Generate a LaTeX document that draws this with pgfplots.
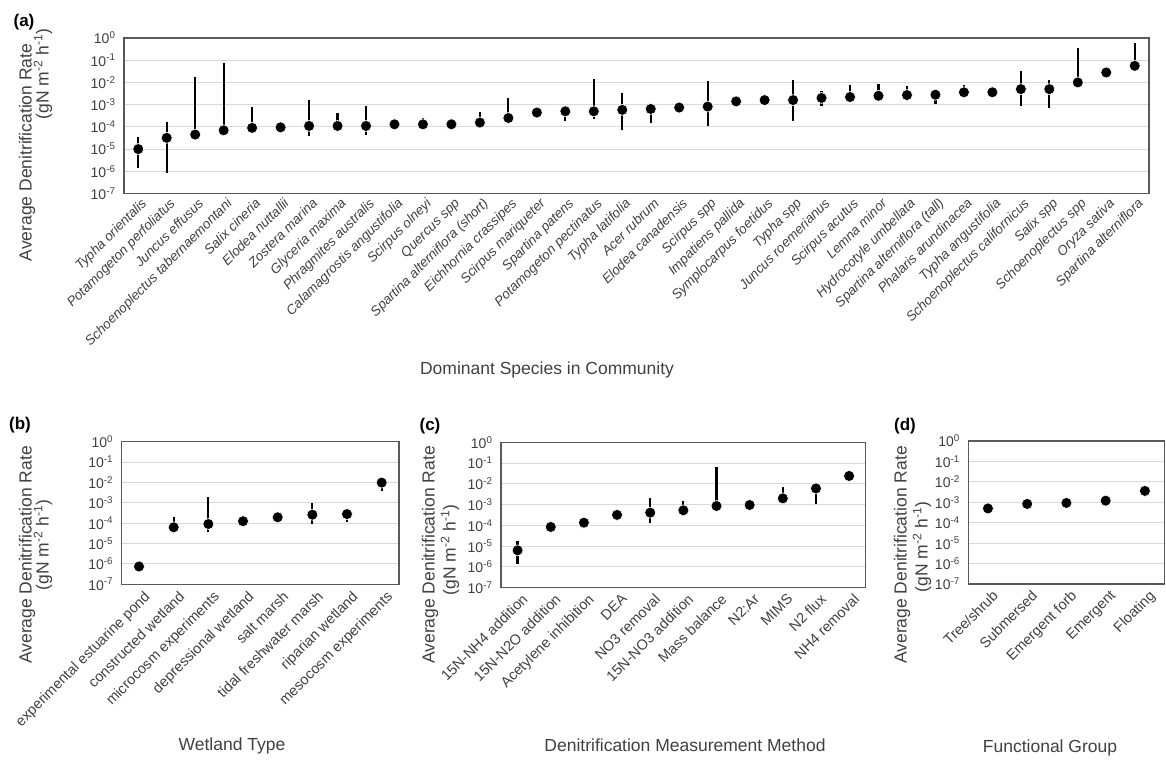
\documentclass[border=0pt]{standalone}
\usepackage{fontspec}
\setmainfont{Liberation Sans}
\usepackage{pgfplots}
\pgfplotsset{compat=1.18}
\definecolor{txt}{HTML}{404040}
\definecolor{gridc}{HTML}{D9D9D9}
\definecolor{axc}{HTML}{595959}
\pgfplotsset{
  mypanel/.style={
    scale only axis,
    ymin=1e-7, ymax=1,
    ytick={1e-7,1e-6,1e-5,1e-4,1e-3,1e-2,1e-1,1},
    yticklabels={10\textsuperscript{-7},10\textsuperscript{-6},10\textsuperscript{-5},10\textsuperscript{-4},10\textsuperscript{-3},10\textsuperscript{-2},10\textsuperscript{-1},10\textsuperscript{0}},
    ymajorgrids, grid style={color=gridc, line width=0.9pt},
    axis line style={color=axc, line width=1.1pt},
    major tick length=0pt, minor tick length=0pt,
    yticklabel style={font=\fontsize{14}{16}\selectfont, text=txt, anchor=east, xshift=-5pt},
    xticklabel style={rotate=45, anchor=north east, text=txt, inner sep=1pt},
    clip=false,
  },
  myebar/.style={black, line width=2.2pt, mark=none, unbounded coords=jump},
  mydots/.style={only marks, mark=*, mark size=5.5pt, mark options={fill=black, draw=white, line width=0.6pt}},
}
\begin{document}
\begin{tikzpicture}[x=1pt,y=1pt]
\path[use as bounding box] (0,0) rectangle (1166,760);

% ---------------- (a)
\begin{axis}[ymode=log, mypanel, at={(124pt,566.5pt)}, anchor=south west, width=1025pt, height=155.5pt,
  xmin=-0.5, xmax=35.5, xtick={0,...,35},
  xticklabel style={font=\itshape\fontsize{13.5}{15}\selectfont, yshift=-3pt},
  xticklabels={{Typha orientalis},{Potamogeton perfoliatus},{Juncus effusus},{Schoenoplectus tabernaemontani},{Salix cineria},{Elodea nuttallii},{Zostera marina},{Glyceria maxima},{Phragmites australis},{Calamagrostis angustifolia},{Scirpus olneyi},{Quercus spp},{Spartina alterniflora (short)},{Eichhornia crassipes},{Scirpus mariqueter},{Spartina patens},{Potamogeton pectinatus},{Typha latifolia},{Acer rubrum},{Elodea canadensis},{Scirpus spp},{Impatiens pallida},{Symplocarpus foetidus},{Typha spp},{Juncus roemerianus},{Scirpus acutus},{Lemna minor},{Hydrocotyle umbellata},{Spartina alterniflora (tall)},{Phalaris arundinacea},{Typha angustifolia},{Schoenoplectus californicus},{Salix spp},{Schoenoplectus spp},{Oryza sativa},{Spartina alterniflora}}]
\addplot[myebar] coordinates {
 (0,1.4e-6) (0,3.4e-5) (0,nan)
 (1,8.7e-7) (1,1.6e-4) (1,nan)
 (2,4.5e-5) (2,0.018) (2,nan)
 (3,7e-5) (3,0.072) (3,nan)
 (4,9e-5) (4,8e-4) (4,nan)
 (6,4e-5) (6,1.7e-3) (6,nan)
 (7,1.1e-4) (7,4e-4) (7,nan)
 (8,4.3e-5) (8,9e-4) (8,nan)
 (10,1.3e-4) (10,2.6e-4) (10,nan)
 (12,1.56e-4) (12,4.7e-4) (12,nan)
 (13,2.5e-4) (13,1.9e-3) (13,nan)
 (15,1.8e-4) (15,5e-4) (15,nan)
 (16,2.2e-4) (16,0.015) (16,nan)
 (17,7.5e-5) (17,3.4e-3) (17,nan)
 (18,1.5e-4) (18,6.4e-4) (18,nan)
 (20,1.07e-4) (20,0.0118) (20,nan)
 (23,1.85e-4) (23,0.0127) (23,nan)
 (24,8.5e-4) (24,4.2e-3) (24,nan)
 (25,2.2e-3) (25,7.3e-3) (25,nan)
 (26,2.5e-3) (26,8.3e-3) (26,nan)
 (27,1.4e-3) (27,6.6e-3) (27,nan)
 (28,1.07e-3) (28,2.8e-3) (28,nan)
 (29,3.6e-3) (29,8e-3) (29,nan)
 (31,8.5e-4) (31,0.032) (31,nan)
 (32,7.4e-4) (32,0.0127) (32,nan)
 (33,0.01) (33,0.36) (33,nan)
 (35,0.056) (35,0.58)
};
\addplot[mydots] coordinates {
 (0,1.0e-5) (1,3.2e-5) (2,4.5e-5) (3,7e-5) (4,9e-5) (5,9.5e-5) (6,1.1e-4) (7,1.1e-4) (8,1.1e-4) (9,1.3e-4)
 (10,1.3e-4) (11,1.3e-4) (12,1.56e-4) (13,2.5e-4) (14,4.4e-4) (15,5e-4) (16,5e-4) (17,5.8e-4) (18,6.4e-4) (19,7.4e-4)
 (20,8.2e-4) (21,1.4e-3) (22,1.6e-3) (23,1.6e-3) (24,2.0e-3) (25,2.2e-3) (26,2.5e-3) (27,2.7e-3) (28,2.8e-3) (29,3.6e-3)
 (30,3.6e-3) (31,5e-3) (32,5e-3) (33,0.01) (34,0.028) (35,0.056)
};
\end{axis}

% ---------------- (b)
\begin{axis}[ymode=log, mypanel, at={(121.7pt,175.7pt)}, anchor=south west, width=277.3pt, height=142.6pt,
  xmin=-0.5, xmax=7.5, xtick={0,...,7},
  xticklabel style={font=\fontsize{14.5}{16}\selectfont, yshift=-6pt},
  xticklabels={{experimental estuarine pond},{constructed wetland},{microcosm experiments},{depressional wetland},{salt marsh},{tidal freshwater marsh},{riparian wetland},{mesocosm experiments}}]
\addplot[myebar] coordinates {
 (1,3.2e-5) (1,2.1e-4) (1,nan)
 (2,3.5e-5) (2,2e-3) (2,nan)
 (5,9e-5) (5,9.5e-4) (5,nan)
 (6,1.2e-4) (6,2.8e-4) (6,nan)
 (7,4e-3) (7,9.8e-3)
};
\addplot[mydots] coordinates {
 (0,7.5e-7) (1,6.3e-5) (2,9.1e-5) (3,1.25e-4) (4,1.95e-4) (5,2.6e-4) (6,2.8e-4) (7,9.8e-3)
};
\end{axis}

% ---------------- (c)
\begin{axis}[ymode=log, mypanel, at={(501pt,172.3pt)}, anchor=south west, width=364.7pt, height=145.4pt,
  xmin=-0.5, xmax=10.5, xtick={0,...,10},
  xticklabel style={font=\fontsize{14.5}{16}\selectfont, yshift=-5pt},
  xticklabels={{15N-NH4 addition},{15N-N2O addition},{Acetylene inhibition},{DEA},{NO3 removal},{15N-NO3 addition},{Mass balance},{N2:Ar},{MIMS},{N2 flux},{NH4 removal}}]
\addplot[myebar] coordinates {
 (0,1.4e-6) (0,1.8e-5) (0,nan)
 (4,1.35e-4) (4,2.2e-3) (4,nan)
 (5,5.3e-4) (5,1.5e-3) (5,nan)
 (6,8.6e-4) (6,0.067) (6,nan)
 (8,2e-3) (8,6.8e-3) (8,nan)
 (9,1.07e-3) (9,6e-3)
};
\addplot[mydots] coordinates {
 (0,6.3e-6) (1,8.4e-5) (2,1.35e-4) (3,3.2e-4) (4,4.1e-4) (5,5.3e-4) (6,8.6e-4) (7,9.6e-4) (8,2e-3) (9,6e-3) (10,0.024)
};
\end{axis}

% ---------------- (d)
\begin{axis}[ymode=log, mypanel, at={(968.3pt,176pt)}, anchor=south west, width=196.2pt, height=143pt,
  xmin=-0.5, xmax=4.5, xtick={0,...,4},
  xticklabel style={font=\fontsize{14.5}{16}\selectfont, yshift=-5pt},
  xticklabels={{Tree/shrub},{Submersed},{Emergent forb},{Emergent},{Floating}}]
\addplot[mydots] coordinates {
 (0,5e-4) (1,8.3e-4) (2,9.3e-4) (3,1.2e-3) (4,3.6e-3)
};
\end{axis}

% ---------------- titles and labels
\begin{scope}[every node/.style={text=txt, inner sep=0pt}]
\node[font=\bfseries\fontsize{17}{20}\selectfont, text=black] at (24,738) {(a)};
\node[font=\bfseries\fontsize{17}{20}\selectfont, text=black] at (20,335) {(b)};
\node[font=\bfseries\fontsize{17}{20}\selectfont, text=black] at (430,334) {(c)};
\node[font=\bfseries\fontsize{17}{20}\selectfont, text=black] at (905,334) {(d)};

\node[rotate=90, font=\fontsize{17.5}{20}\selectfont] at (27,607.5) {Average Denitrification Rate};
\node[rotate=90, font=\fontsize{17.5}{20}\selectfont] at (43,686) {(gN m\textsuperscript{-2} h\textsuperscript{-1})};

\node[rotate=90, font=\fontsize{17.5}{20}\selectfont] at (27,205) {Average Denitrification Rate};
\node[rotate=90, font=\fontsize{17.5}{20}\selectfont] at (43,215) {(gN m\textsuperscript{-2} h\textsuperscript{-1})};

\node[rotate=90, font=\fontsize{17.5}{20}\selectfont] at (430,205) {Average Denitrification Rate};
\node[rotate=90, font=\fontsize{17.5}{20}\selectfont] at (450,210) {(gN m\textsuperscript{-2} h\textsuperscript{-1})};

\node[rotate=90, font=\fontsize{17.5}{20}\selectfont] at (902,205) {Average Denitrification Rate};
\node[rotate=90, font=\fontsize{17.5}{20}\selectfont] at (922,213) {(gN m\textsuperscript{-2} h\textsuperscript{-1})};

\node[font=\fontsize{17.5}{20}\selectfont] at (547,390) {Dominant Species in Community};
\node[font=\fontsize{17.5}{20}\selectfont] at (232,14) {Wetland Type};
\node[font=\fontsize{17.5}{20}\selectfont] at (685,15) {Denitrification Measurement Method};
\node[font=\fontsize{17.5}{20}\selectfont] at (1050,12) {Functional Group};
\end{scope}
\end{tikzpicture}
\end{document}
